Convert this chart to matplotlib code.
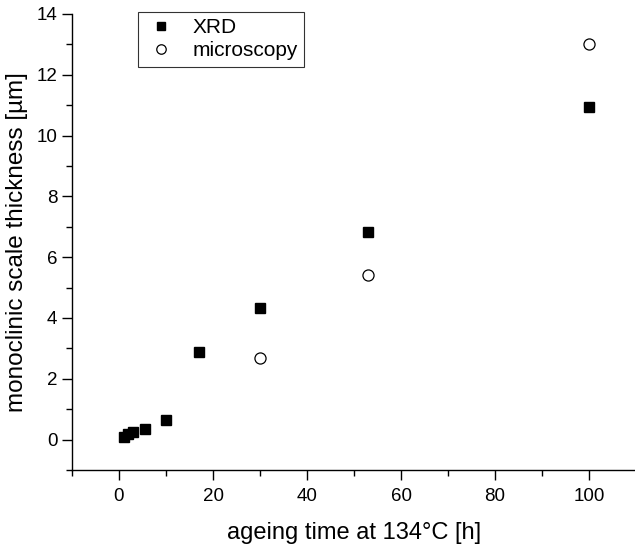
import matplotlib
matplotlib.use("Agg")
import matplotlib.pyplot as plt

plt.rcParams['font.family'] = ['Liberation Sans', 'DejaVu Sans']

xrd_t = [1, 2, 3, 5.5, 10, 17, 30, 53, 100]
xrd_thk = [0.1, 0.17, 0.26, 0.36, 0.63, 2.87, 4.33, 6.84, 10.93]
mic_t = [30, 53, 100]
mic_thk = [2.7, 5.4, 13.0]

fig = plt.figure(figsize=(6.35, 5.44), dpi=100)
ax = fig.add_axes([72/635, 74/544, 564/635, 456/544])

ax.plot(xrd_t, xrd_thk, 's', color='black', markersize=7, label='XRD', clip_on=False)
ax.plot(mic_t, mic_thk, 'o', markerfacecolor='white', markeredgecolor='black',
        markeredgewidth=0.9, markersize=8, label='microscopy', clip_on=False)

ax.set_xlim(-10, 110)
ax.set_ylim(-1, 14)
ax.set_xticks([0, 20, 40, 60, 80, 100])
ax.set_xticks([-10, 10, 30, 50, 70, 90, 110], minor=True)
ax.set_yticks(range(0, 15, 2))
ax.set_yticks(range(-1, 15, 2), minor=True)

for s in ['top', 'right']:
    ax.spines[s].set_visible(False)
for s in ['left', 'bottom']:
    ax.spines[s].set_linewidth(1.0)

ax.tick_params(axis='both', which='major', direction='out', length=7, width=1.0, labelsize=13.5)
ax.tick_params(axis='x', which='major', pad=6)
ax.tick_params(axis='both', which='minor', direction='out', length=4, width=1.0)

ax.set_xlabel('ageing time at 134°C [h]', fontsize=17, labelpad=12)
ax.set_ylabel('monoclinic scale thickness [µm]', fontsize=17.5, labelpad=6)

leg = ax.legend(loc='upper left', bbox_to_anchor=((138 - 72) / 564, (470 - 12) / 456),
                bbox_transform=ax.transAxes, borderaxespad=0,
                fontsize=15, frameon=True, fancybox=False, edgecolor='black',
                handletextpad=0.7, borderpad=0.3, labelspacing=0.2, handlelength=1.6,
                markerscale=0.85)
leg.get_frame().set_linewidth(0.8)

fig.savefig('out.png', dpi=100)
